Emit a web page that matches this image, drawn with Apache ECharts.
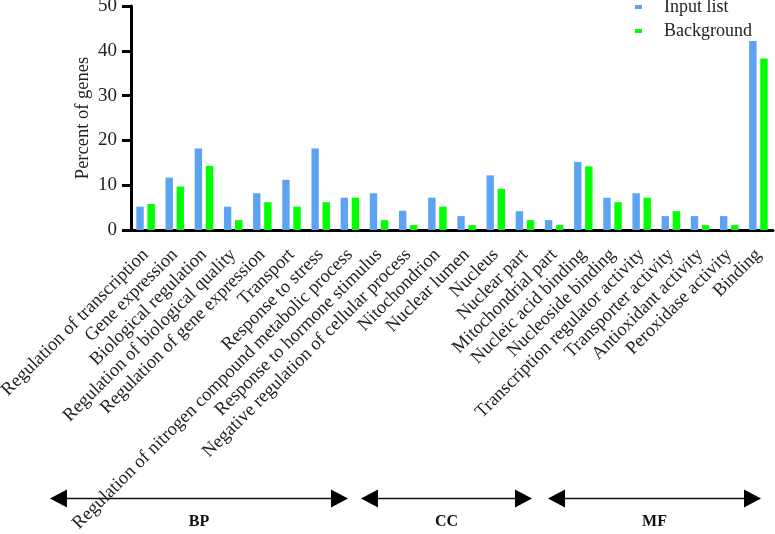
<!DOCTYPE html>
<html>
<head>
<meta charset="utf-8">
<script src="https://cdn.jsdelivr.net/npm/echarts@6/dist/echarts.min.js"></script>
<style>
html,body{margin:0;padding:0;background:#fff;}
#chart{width:775px;height:534px;}
</style>
</head>
<body>
<div id="chart"></div>
<script>
var categories = [
  "Regulation of transcription",
  "Gene expression",
  "Biological regulation",
  "Regulation of biological quality",
  "Regulation of gene expression",
  "Transport",
  "Response to stress",
  "Regulation of nitrogen compound metabolic process",
  "Response to hormone stimulus",
  "Negative regulation of cellular process",
  "Nitochondrion",
  "Nuclear lumen",
  "Nucleus",
  "Nuclear part",
  "Mitochondrial part",
  "Nucleic acid binding",
  "Nucleoside binding",
  "Transcription regulator activity",
  "Transporter activity",
  "Antioxidant activity",
  "Peroxidase activity",
  "Binding"
];
var inputList = [5.2, 11.7, 18.2, 5.2, 8.2, 11.2, 18.2, 7.2, 8.2, 4.3, 7.2, 3.1, 12.2, 4.2, 2.2, 15.2, 7.2, 8.2, 3.1, 3.1, 3.1, 42.2];
var background = [5.8, 9.7, 14.3, 2.2, 6.2, 5.2, 6.2, 7.2, 2.2, 1.1, 5.2, 1.1, 9.2, 2.2, 1.1, 14.2, 6.2, 7.2, 4.2, 1.1, 1.1, 38.3];
var seriesNames = ["Input list", "Background"];
var yTicks = [0, 10, 20, 30, 40, 50];
var groups = [
  {name: "BP", x1: 50, x2: 348},
  {name: "CC", x1: 361, x2: 532},
  {name: "MF", x1: 548, x2: 761}
];

var font = "'Liberation Serif', 'Times New Roman', serif";
var chart = echarts.init(document.getElementById('chart'));

var graphics = [];
var ay = 498.5;
groups.forEach(function (g) {
  graphics.push({type: 'line', shape: {x1: g.x1 + 10, y1: ay, x2: g.x2 - 10, y2: ay}, style: {stroke: '#111', lineWidth: 1.3}});
  graphics.push({type: 'polygon', shape: {points: [[g.x1, ay], [g.x1 + 17, ay - 9], [g.x1 + 17, ay + 9]]}, style: {fill: '#000'}});
  graphics.push({type: 'polygon', shape: {points: [[g.x2, ay], [g.x2 - 17, ay - 9], [g.x2 - 17, ay + 9]]}, style: {fill: '#000'}});
  graphics.push({type: 'text', x: (g.x1 + g.x2) / 2, y: 522, style: {text: g.name, fontFamily: font, fontWeight: 'bold', fontSize: 16, fill: '#111', align: 'center', verticalAlign: 'middle'}});
});

chart.setOption({
  animation: false,
  backgroundColor: '#fff',
  grid: {left: 131, right: 2, top: 6, bottom: 304, containLabel: false, outerBoundsMode: 'none'},
  legend: {
    orient: 'vertical', left: 635, top: -2, padding: 0, itemGap: 6,
    itemWidth: 7, itemHeight: 4, icon: 'rect',
    data: seriesNames,
    textStyle: {fontFamily: font, fontSize: 18, color: '#222', padding: [0, 0, 0, 17], lineHeight: 18}
  },
  xAxis: {
    type: 'category', data: categories,
    axisLine: {lineStyle: {color: '#000', width: 3}},
    axisTick: {alignWithLabel: true, length: 9, lineStyle: {color: '#000', width: 3}, interval: 0},
    axisLabel: {interval: 0, rotate: 45, fontFamily: font, fontSize: 18.5, color: '#222', margin: 22}
  },
  yAxis: {
    type: 'value', min: yTicks[0], max: yTicks[yTicks.length - 1], interval: 10,
    name: 'Percent of genes', nameLocation: 'middle', nameGap: 38, nameMoveOverlap: false,
    nameTextStyle: {fontFamily: font, fontSize: 18.5, color: '#222'},
    axisLine: {show: true, lineStyle: {color: '#000', width: 3}},
    axisTick: {show: true, length: 9, lineStyle: {color: '#000', width: 3}},
    axisLabel: {fontFamily: font, fontSize: 19, color: '#222', margin: 14},
    splitLine: {show: false}
  },
  series: [
    {name: seriesNames[0], type: 'bar', data: inputList, barWidth: 7.4, barGap: '50%', itemStyle: {color: '#5CA3F2'}},
    {name: seriesNames[1], type: 'bar', data: background, barWidth: 7.4, barGap: '50%', itemStyle: {color: '#00FF00'}}
  ],
  graphic: graphics
});
</script>
</body>
</html>
